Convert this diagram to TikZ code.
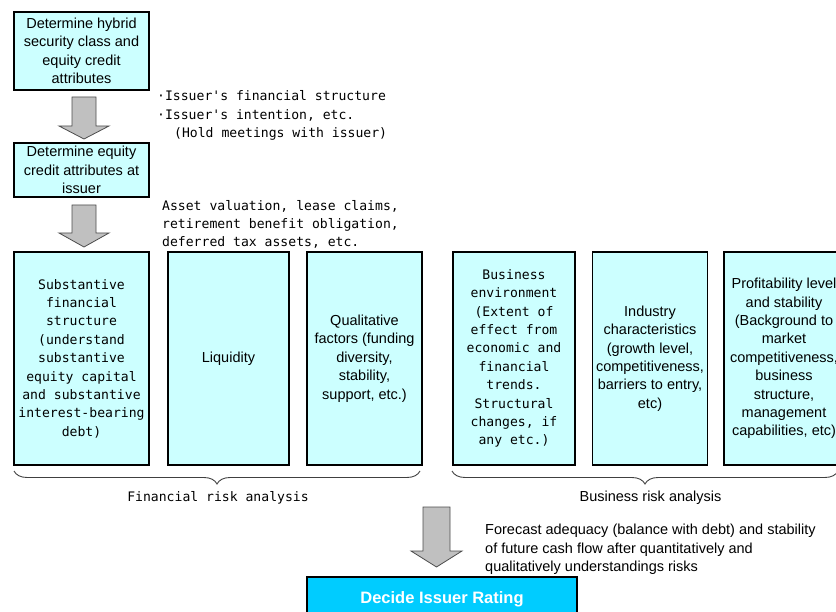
\documentclass[tikz,border=0pt]{standalone}
\usepackage{fontspec}
\setmainfont{Liberation Sans}
\newfontfamily\monof{DejaVu Sans Mono}
\usetikzlibrary{decorations.pathreplacing}
\definecolor{boxcyan}{RGB}{204,255,255}
\definecolor{ratecyan}{RGB}{0,204,255}
\definecolor{arrowgray}{RGB}{192,192,192}

\begin{document}
\begin{tikzpicture}[x=1pt,y=-1pt,
    box/.style={draw=black,line width=1.1pt,fill=boxcyan,align=center,inner sep=0pt,
      font=\fontsize{14.5}{18.4}\selectfont},
    monobox/.style={box,font=\monof\fontsize{13.1}{18.4}\selectfont},
    note/.style={align=left,inner sep=0pt,anchor=west,font=\monof\fontsize{13.1}{18.4}\selectfont},
    sansnote/.style={align=left,inner sep=0pt,anchor=west,font=\fontsize{14.5}{18.4}\selectfont},
    garrow/.style={draw=black!70,fill=arrowgray,line width=0.8pt,line join=miter},
    bracket/.style={decorate,decoration={brace,mirror,amplitude=13pt},draw=black!75,line width=0.9pt}]
    \useasboundingbox (0,0) rectangle (836,612);
    \clip (0,0) rectangle (836,612);

    % top column
    \node[box,minimum width=135pt,minimum height=78pt] (hybrid) at (81.5,51)
        {Determine hybrid\\security class and\\equity credit\\attributes};
    \node[box,minimum width=135pt,minimum height=54pt] (issuer) at (81.5,170)
        {Determine equity\\credit attributes at\\issuer};
    \draw[garrow] (72,97) -- (96,97) -- (96,126) -- (109,126) -- (84,139) -- (59,126) -- (72,126) -- cycle;
    \draw[garrow] (72,205) -- (96,205) -- (96,233) -- (109,233) -- (84,247) -- (59,233) -- (72,233) -- cycle;

    \node[note] (meetings) at (157,115.5)
        {·Issuer's financial structure\\·Issuer's intention, etc.\\\hspace*{17pt}(Hold meetings with issuer)};
    \node[note] (assets) at (162,224.5)
        {Asset valuation, lease claims,\\retirement benefit obligation,\\deferred tax assets, etc.};

    % financial risk
    \node[monobox,minimum width=135pt,minimum height=213pt] (structure) at (81.5,358.5)
        {Substantive\\financial\\structure\\(understand\\substantive\\equity capital\\and substantive\\interest-bearing\\debt)};
    \node[box,minimum width=121pt,minimum height=213pt] (liquidity) at (228.5,358.5) {Liquidity};
    \node[box,minimum width=115pt,minimum height=213pt] (qualitative) at (364.5,358.5)
        {Qualitative\\factors (funding\\diversity,\\stability,\\support, etc.)};

    % business risk
    \node[monobox,minimum width=122pt,minimum height=213pt] (environment) at (514,358.5)
        {Business\\environment\\(Extent of\\effect from\\economic and\\financial\\trends.\\Structural\\changes, if\\any etc.)};
    \node[box,minimum width=115pt,minimum height=213pt] (industry) at (650,358.5)
        {Industry\\characteristics\\(growth level,\\competitiveness,\\barriers to entry,\\etc)};
    \node[box,minimum width=120pt,minimum height=213pt] (profit) at (784,358.5)
        {Profitability level\\and stability\\(Background to\\market\\competitiveness,\\business\\structure,\\management\\capabilities, etc)};

    \draw[bracket] (14,471) -- (420,471);
    \draw[bracket] (452,471) -- (838,471);
    \node[font=\monof\fontsize{13.1}{16}\selectfont] (finlabel) at (218,497.5) {Financial risk analysis};
    \node[font=\fontsize{14.5}{16}\selectfont] (buslabel) at (650.5,497.5) {Business risk analysis};

    % rating
    \draw[garrow] (423,507) -- (450,507) -- (450,551) -- (462,551) -- (436.5,567) -- (411,551) -- (423,551) -- cycle;
    \node[sansnote] (forecast) at (485,549.5)
        {Forecast adequacy (balance with debt) and stability\\of future cash flow after quantitatively and\\qualitatively understandings risks};
    \node[draw=black,line width=2.6pt,fill=ratecyan,minimum width=270pt,minimum height=44pt,
        text=white,font=\bfseries\fontsize{16.5}{18}\selectfont] (rating) at (442,599) {Decide Issuer Rating};
\end{tikzpicture}
\end{document}
